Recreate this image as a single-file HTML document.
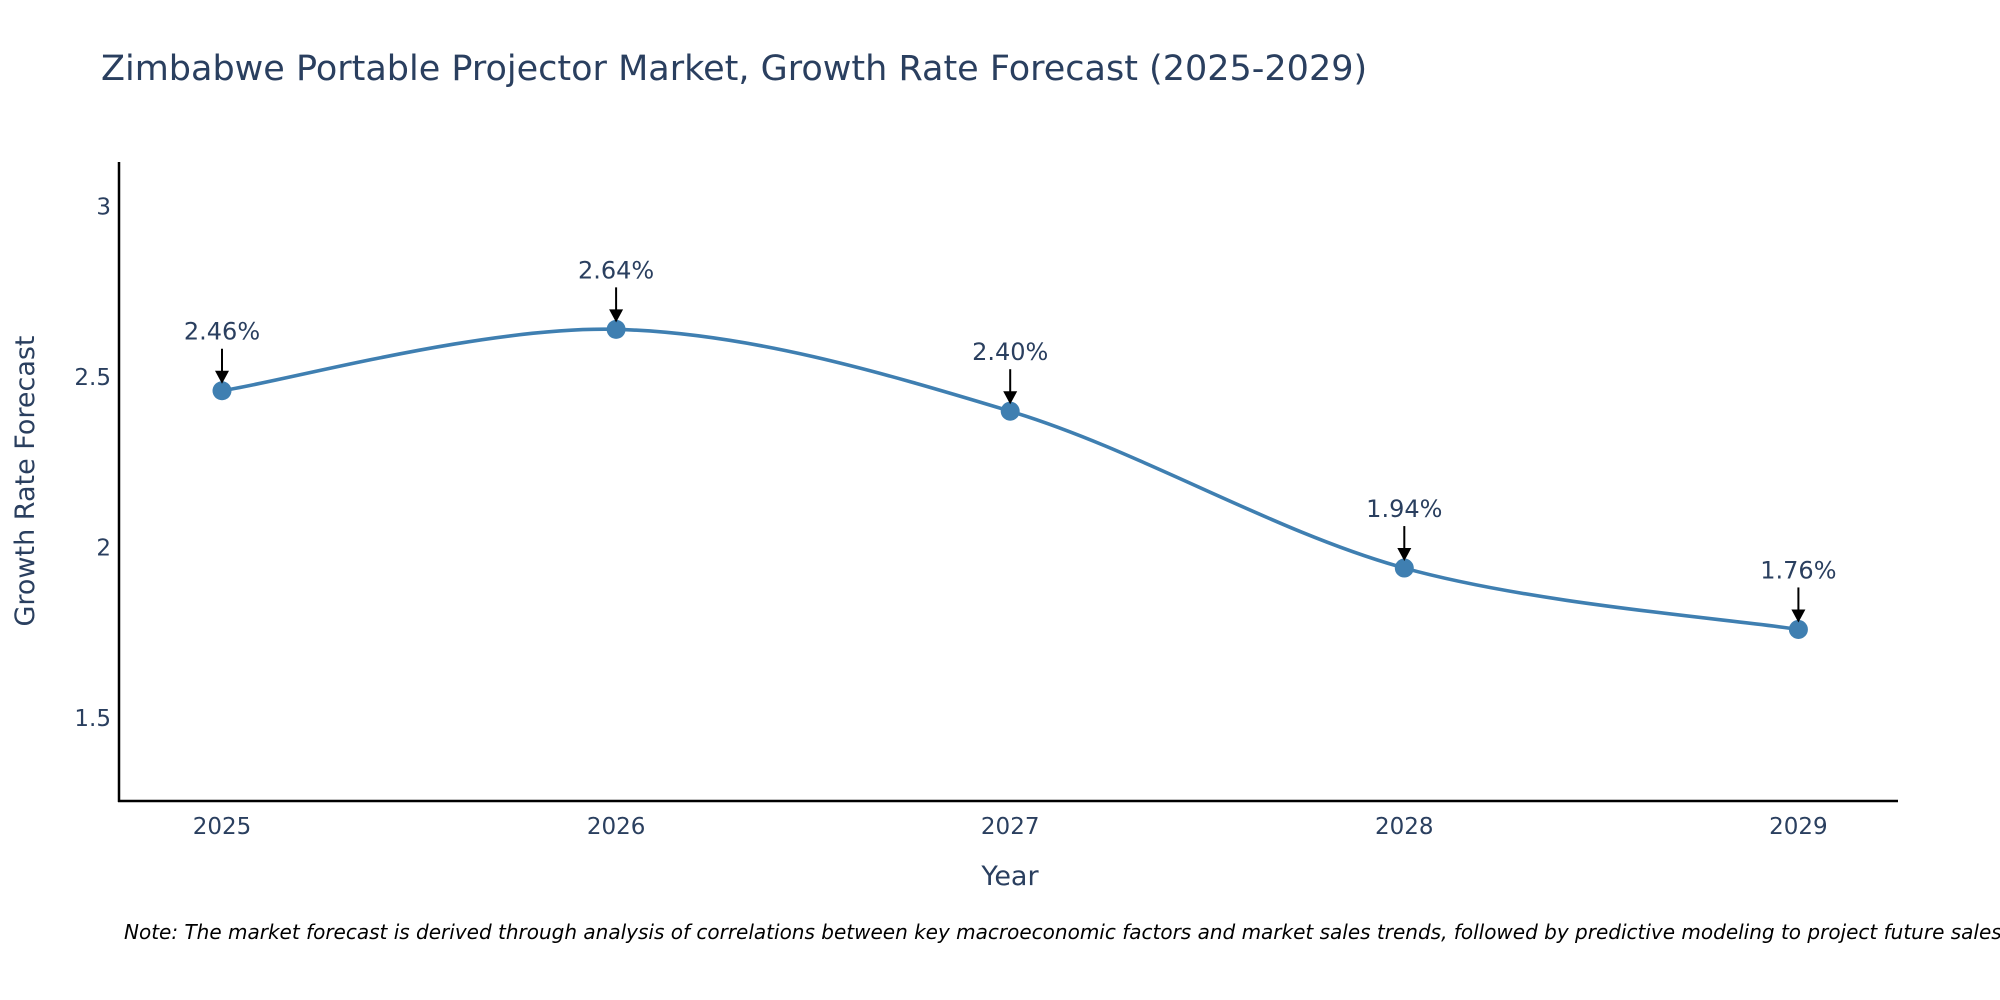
<!DOCTYPE html>
<html><head><meta charset="utf-8"><style>
body{margin:0;background:#fff;}
svg{display:block;font-family:"DejaVu Sans","Liberation Sans",sans-serif;}
</style></head><body>
<svg id="chart" width="2000" height="1000" viewBox="0 0 2000 1000">
<text x="101" y="80" font-size="35" fill="#2a3f5f">Zimbabwe Portable Projector Market, Growth Rate Forecast (2025-2029)</text>
<g id="yticks"></g>
<g id="xticks"></g>
<line x1="119" y1="162" x2="119" y2="802" stroke="#000" stroke-width="2.5"/>
<line x1="118" y1="801" x2="1898" y2="801" stroke="#000" stroke-width="2.5"/>
<text transform="translate(34,481) rotate(-90)" text-anchor="middle" font-size="27" fill="#2a3f5f">Growth Rate Forecast</text>
<text x="1010" y="885" text-anchor="middle" font-size="27" fill="#2a3f5f">Year</text>
<g id="series"></g>
<text x="124" y="939" font-size="20" font-style="italic" fill="#000">Note: The market forecast is derived through analysis of correlations between key macroeconomic factors and market sales trends, followed by predictive modeling to project future sales.</text>
</svg>
<script>
const years = [2025, 2026, 2027, 2028, 2029];
const growth = [2.46, 2.64, 2.40, 1.94, 1.76];
const labels = ["2.46%", "2.64%", "2.40%", "1.94%", "1.76%"];
const yTicks = [1.5, 2, 2.5, 3];
const yTickLabels = ["1.5", "2", "2.5", "3"];

const NS = "http://www.w3.org/2000/svg";
function xs(v){ return 222 + (v - 2025) * 394.1; }
function ys(v){ return 206.6 + (3 - v) * 341; }
function mk(tag, attrs, parent){ const e=document.createElementNS(NS,tag); for(const k in attrs) e.setAttribute(k,attrs[k]); parent.appendChild(e); return e; }

const yg=document.getElementById('yticks');
yTicks.forEach((t,i)=>{
  const e=mk('text',{x:111,y:ys(t)+8,'text-anchor':'end','font-size':23,fill:'#2a3f5f'},yg);
  
  
  e.textContent=yTickLabels[i];
});
const xg=document.getElementById('xticks');
years.forEach(y=>{
  const e=mk('text',{x:xs(y),y:834,'text-anchor':'middle','font-size':23,fill:'#2a3f5f'},xg);
  
  
  e.textContent=String(y);
});

const sg=document.getElementById('series');
const pts=years.map((y,i)=>[xs(y),ys(growth[i])]);
let d=`M${pts[0][0]},${pts[0][1]}`;
const tension=0.5;
for(let i=0;i<pts.length-1;i++){
  const p0=pts[Math.max(0,i-1)],p1=pts[i],p2=pts[i+1],p3=pts[Math.min(pts.length-1,i+2)];
  const c1=[p1[0]+(p2[0]-p0[0])*tension/3,p1[1]+(p2[1]-p0[1])*tension/3];
  const c2=[p2[0]-(p3[0]-p1[0])*tension/3,p2[1]-(p3[1]-p1[1])*tension/3];
  d+=` C${c1[0]},${c1[1]} ${c2[0]},${c2[1]} ${p2[0]},${p2[1]}`;
}
const line=mk('path',{d:d,fill:'none',stroke:'#3f7fb1','stroke-width':3.6},sg);



pts.forEach((p,i)=>{
  const c=mk('circle',{cx:p[0],cy:p[1],r:9.5,fill:'#3f7fb1'},sg);
  
  
  const a=mk('line',{x1:p[0],y1:p[1]-42,x2:p[0],y2:p[1]-18,stroke:'#000','stroke-width':2},sg);
  
  
  const h=mk('polygon',{points:`${p[0]-7},${p[1]-20} ${p[0]+7},${p[1]-20} ${p[0]},${p[1]-7}`,fill:'#000'},sg);
  
  
  const t=mk('text',{x:p[0],y:p[1]-51,'text-anchor':'middle','font-size':24,fill:'#2a3f5f'},sg);
  
  
  t.textContent=labels[i];
});
</script>
</body></html>
